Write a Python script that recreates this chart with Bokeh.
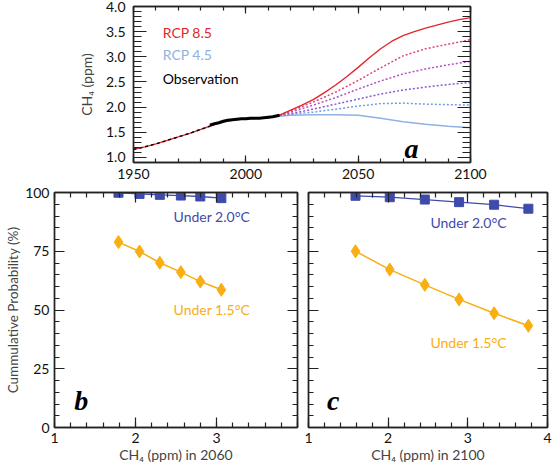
from bokeh.plotting import figure
from bokeh.models import LinearAxis, SingleIntervalTicker, Label, CustomJSTickFormatter
from bokeh.layouts import column, row
from bokeh.embed import file_html
from bokeh.resources import INLINE

FONT = "Lato"
AX = "#222222"

# ---------------- Panel a data ----------------
rcp85_years = [1950, 1955, 1960, 1965, 1970, 1975, 1980, 1985, 1990, 1995, 2000, 2005, 2010, 2015,
               2020, 2025, 2030, 2035, 2040, 2045, 2050, 2055, 2060, 2065, 2070, 2075, 2080, 2085,
               2090, 2095, 2100]
rcp85_ch4 = [1.16, 1.21, 1.27, 1.34, 1.41, 1.48, 1.56, 1.64, 1.71, 1.75, 1.77, 1.78, 1.79, 1.84,
             1.94, 2.04, 2.15, 2.29, 2.44, 2.61, 2.79, 2.98, 3.16, 3.31, 3.42, 3.50, 3.57, 3.63,
             3.69, 3.74, 3.78]

rcp45_years = [2005, 2010, 2015, 2020, 2030, 2040, 2050, 2060, 2070, 2080, 2090, 2100]
rcp45_ch4 = [1.78, 1.80, 1.82, 1.84, 1.85, 1.85, 1.84, 1.78, 1.71, 1.66, 1.62, 1.59]

mid_years = [2015, 2020, 2030, 2040, 2050, 2060, 2070, 2080, 2090, 2100]
mid1_ch4 = [1.84, 1.92, 2.10, 2.30, 2.53, 2.78, 3.02, 3.16, 3.25, 3.34]
mid2_ch4 = [1.84, 1.90, 2.04, 2.19, 2.36, 2.52, 2.66, 2.76, 2.84, 2.91]
mid3_ch4 = [1.84, 1.87, 1.96, 2.06, 2.16, 2.26, 2.34, 2.40, 2.45, 2.49]
mid4_ch4 = [1.84, 1.86, 1.90, 1.96, 2.02, 2.07, 2.08, 2.06, 2.05, 2.04]
mid_colors = ["#e0447e", "#b64fc4", "#8a5ad6", "#6f9de3"]

ice_years = [1950, 1955, 1960, 1965, 1970, 1975, 1980, 1984]
ice_ch4 = [1.16, 1.21, 1.27, 1.34, 1.41, 1.48, 1.56, 1.62]

obs_years = [1984, 1986, 1988, 1990, 1992, 1994, 1996, 1998, 2000, 2002, 2004, 2006, 2008,
             2010, 2012, 2014, 2015]
obs_ch4 = [1.64, 1.67, 1.69, 1.72, 1.74, 1.75, 1.76, 1.77, 1.77, 1.78, 1.78, 1.78, 1.79,
           1.80, 1.81, 1.83, 1.84]

# ---------------- Panels b, c data ----------------
b_ch4 = [1.79, 2.05, 2.30, 2.56, 2.80, 3.06]
b_under20 = [99.9, 99.4, 99.0, 98.7, 98.3, 97.6]
b_under15 = [78.9, 74.9, 70.1, 66.1, 62.1, 58.6]

c_ch4 = [1.59, 2.02, 2.46, 2.89, 3.33, 3.76]
c_under20 = [98.6, 98.0, 97.0, 95.9, 94.8, 93.1]
c_under15 = [75.0, 67.2, 60.7, 54.5, 48.6, 43.3]

BLUE = "#3f4bab"
ORANGE = "#f9ae12"
RED = "#e3262b"
LBLUE = "#8fb2e3"


def style_axis(ax, maj, mino, labels=True, size="14px", standoff=6):
    ax.axis_line_color = AX
    ax.axis_line_width = 1.4
    ax.major_tick_in = maj
    ax.major_tick_out = 0
    ax.minor_tick_in = mino
    ax.minor_tick_out = 0
    ax.major_tick_line_color = AX
    ax.minor_tick_line_color = AX
    ax.major_tick_line_width = 1.2
    ax.minor_tick_line_width = 1.2
    if labels:
        ax.major_label_text_font = FONT
        ax.major_label_text_font_size = size
        ax.major_label_text_color = "#111111"
        ax.major_label_standoff = standoff
    else:
        ax.formatter = CustomJSTickFormatter(code="return '';")
        ax.major_label_text_font_size = "1px"
        ax.major_label_standoff = 0


def base_fig(**kw):
    p = figure(output_backend="svg", toolbar_location=None, **kw)
    p.grid.visible = False
    p.outline_line_color = AX
    p.outline_line_width = 1.4
    p.background_fill_color = "white"
    p.border_fill_color = "white"
    return p


# ---------------- Panel a ----------------
pa = base_fig(width=555, height=185, x_range=(1950, 2100), y_range=(0.9, 4.0),
              min_border_left=133, min_border_right=85, min_border_top=6, min_border_bottom=23)
xt = SingleIntervalTicker(interval=50, num_minor_ticks=5)
yt = SingleIntervalTicker(interval=0.5, num_minor_ticks=5)
pa.xaxis[0].ticker = xt
pa.yaxis[0].ticker = yt
style_axis(pa.xaxis[0], 7, 4, standoff=6)
style_axis(pa.yaxis[0], 13, 8, standoff=8)
pa.yaxis[0].formatter = CustomJSTickFormatter(code="return tick.toFixed(1);")
pa.yaxis[0].axis_label = "CH\u2084 (ppm)"
pa.yaxis[0].axis_label_text_font = FONT
pa.yaxis[0].axis_label_text_font_size = "14px"
pa.yaxis[0].axis_label_text_font_style = "normal"
pa.yaxis[0].axis_label_standoff = 8
ta = LinearAxis(ticker=xt)
style_axis(ta, 7, 4, labels=False)
pa.add_layout(ta, "above")
ra = LinearAxis(ticker=yt)
style_axis(ra, 13, 8, labels=False)
pa.add_layout(ra, "right")

pa.line(rcp45_years, rcp45_ch4, line_color=LBLUE, line_width=1.4)
for ys, col in zip([mid4_ch4, mid3_ch4, mid2_ch4, mid1_ch4], mid_colors[::-1]):
    pa.line(mid_years, ys, line_color=col, line_width=1.5, line_dash="2 2")
pa.line(rcp85_years, rcp85_ch4, line_color=RED, line_width=1.4)
pa.line(ice_years, ice_ch4, line_color="black", line_width=1.4, line_dash="3 3")
pa.line(obs_years, obs_ch4, line_color="black", line_width=3)

for txt, yv, col in [("RCP  8.5", 3.49, RED), ("RCP  4.5", 3.04, LBLUE), ("Observation", 2.57, "black")]:
    pa.add_layout(Label(x=1963, y=yv, text=txt, text_color=col, text_font=FONT,
                        text_font_size="14px", text_baseline="middle", text_align="left"))
pa.add_layout(Label(x=2073.7, y=1.17, text="a", text_font="Liberation Serif",
                    text_font_style="bold italic", text_font_size="28px",
                    text_align="center", text_baseline="alphabetic", text_color="black"))


# ---------------- Panels b, c ----------------
def prob_panel(xs, y20, y15, width, left, right, xlabel, tag, tagx, t20y, t15y, tx, show_y, hide_x4):
    p = base_fig(width=width, height=283, x_range=(1, 4), y_range=(0, 100),
                 min_border_left=left, min_border_right=right, min_border_top=7,
                 min_border_bottom=41)
    xt = SingleIntervalTicker(interval=1, num_minor_ticks=5)
    yt = SingleIntervalTicker(interval=25, num_minor_ticks=5)
    p.xaxis[0].ticker = xt
    p.yaxis[0].ticker = yt
    style_axis(p.xaxis[0], 10, 5, standoff=5)
    if hide_x4:
        p.xaxis[0].major_label_overrides = {4: ""}
    p.xaxis[0].axis_label = xlabel
    p.xaxis[0].axis_label_text_font = FONT
    p.xaxis[0].axis_label_text_font_size = "14px"
    p.xaxis[0].axis_label_text_font_style = "normal"
    p.xaxis[0].axis_label_standoff = 0
    if show_y:
        style_axis(p.yaxis[0], 10, 5, standoff=5)
        p.yaxis[0].axis_label = "Cummulative Probability (%)"
        p.yaxis[0].axis_label_text_font = FONT
        p.yaxis[0].axis_label_text_font_size = "13.5px"
        p.yaxis[0].axis_label_text_font_style = "normal"
        p.yaxis[0].axis_label_standoff = 1
    else:
        style_axis(p.yaxis[0], 10, 5, labels=False)
    ta = LinearAxis(ticker=xt)
    style_axis(ta, 10, 5, labels=False)
    p.add_layout(ta, "above")
    ra = LinearAxis(ticker=yt)
    style_axis(ra, 10, 5, labels=False)
    p.add_layout(ra, "right")

    p.line(xs, y20, line_color=BLUE, line_width=1.3)
    p.scatter(xs, y20, marker="square", size=9, fill_color=BLUE, line_color=BLUE)
    p.line(xs, y15, line_color=ORANGE, line_width=1.5)
    p.scatter(xs, y15, marker="diamond", size=13, fill_color=ORANGE, line_color=ORANGE)

    p.add_layout(Label(x=tx, y=t20y, text="Under 2.0\u00b0C", text_color=BLUE, text_font=FONT,
                       text_font_size="14px", text_baseline="middle", text_align="left"))
    p.add_layout(Label(x=tx, y=t15y, text="Under 1.5\u00b0C", text_color=ORANGE, text_font=FONT,
                       text_font_size="14px", text_baseline="middle", text_align="left"))
    p.add_layout(Label(x=tagx, y=11.5, text=tag, text_font="Liberation Serif",
                       text_font_style="bold italic", text_font_size="28px",
                       text_align="center", text_baseline="alphabetic", text_color="black"))
    return p


pb = prob_panel(b_ch4, b_under20, b_under15, 302, 54, 5, "CH\u2084 (ppm) in 2060", "b", 1.33,
                89.9, 50.2, 2.47, True, True)
pc = prob_panel(c_ch4, c_under20, c_under15, 253, 6, 8, "CH\u2084 (ppm) in 2100", "c", 1.31,
                87.2, 36.2, 2.53, False, False)

layout = column(pa, row(pb, pc))
open("out.html", "w").write(file_html(layout, INLINE))
